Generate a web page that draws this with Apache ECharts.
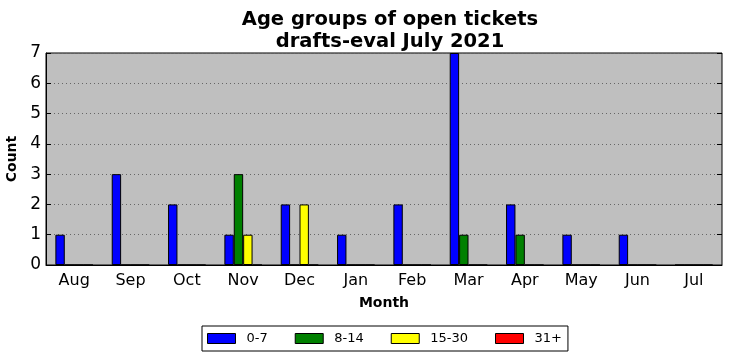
<!DOCTYPE html>
<html><head><meta charset="utf-8">
<script src="https://cdn.jsdelivr.net/npm/echarts@6/dist/echarts.min.js"></script>
<style>html,body{margin:0;padding:0;background:#fff}#c{width:732px;height:361px}</style>
</head><body><div id="c"></div>
<script>
const months = ['Aug','Sep','Oct','Nov','Dec','Jan','Feb','Mar','Apr','May','Jun','Jul'];
const s0_7   = [1,3,2,1,2,1,2,7,2,1,1,0];
const s8_14  = [0,0,0,3,0,0,0,1,1,0,0,0];
const s15_30 = [0,0,0,1,2,0,0,0,0,0,0,0];
const s31    = [0,0,0,0,0,0,0,0,0,0,0,0];
const seriesNames = ['0-7','8-14','15-30','31+'];
const seriesColors = ['#0000ff','#008000','#ffff00','#ff0000'];
const yTicks = [0,1,2,3,4,5,6,7];

const font = 'DejaVu Sans';
const chart = echarts.init(document.getElementById('c'), null, {renderer:'canvas'});
const data = [s0_7, s8_14, s15_30, s31];
chart.setOption({
  animation:false,
  title:{text:'Age groups of open tickets\ndrafts-eval July 2021', left:385, top:4, textAlign:'center',
    textStyle:{fontFamily:font, fontSize:19.5, fontWeight:'bold', color:'#000', lineHeight:22}},
  grid:{left:46, right:10, top:53, bottom:96, outerBoundsMode:'none', containLabel:false, show:true, backgroundColor:'#bfbfbf', borderColor:'#000', borderWidth:1},
  legend:{top:326, left:202, itemWidth:28, itemHeight:10, itemGap:27,
    backgroundColor:'#fff', borderColor:'#000', borderWidth:1, borderRadius:0, padding:[6,6,6,5],
    textStyle:{fontFamily:font, fontSize:13, color:'#000', padding:[0,0,0,6]},
    data: seriesNames.map(n=>({name:n, icon:'rect', itemStyle:{borderColor:'#000', borderWidth:1}}))},
  xAxis:[{type:'category', data:months, name:'Month', nameLocation:'middle', nameGap:31,
    nameTextStyle:{fontFamily:font, fontSize:14, fontWeight:'bold', color:'#000'},
    axisLine:{lineStyle:{color:'#000'}}, axisTick:{inside:true, alignWithLabel:true, length:5, lineStyle:{color:'#000'}},
    axisLabel:{fontFamily:font, fontSize:16, color:'#000', margin:8}, splitLine:{show:false}},
    {type:'category', data:months, position:'top', axisLine:{show:false}, axisLabel:{show:false},
    axisTick:{inside:true, alignWithLabel:true, length:5, lineStyle:{color:'#000'}}}],
  yAxis:[{type:'value', min:0, max:7, interval:1, name:'Count', nameLocation:'middle', nameGap:22,
    nameTextStyle:{fontFamily:font, fontSize:14, fontWeight:'bold', color:'#000'},
    axisLine:{show:true, lineStyle:{color:'#000'}}, axisTick:{show:true, inside:true, length:5, lineStyle:{color:'#000'}},
    axisLabel:{fontFamily:font, fontSize:17, color:'#000', margin:5, formatter:v=>yTicks.includes(v)?String(v):''},
    splitLine:{show:true, lineStyle:{color:'#666', type:[1,3], width:1}}},
    {type:'value', min:0, max:7, interval:1, position:'right', axisLine:{show:false}, axisLabel:{show:false},
    axisTick:{show:true, inside:true, length:5, lineStyle:{color:'#000'}}, splitLine:{show:false}}],
  series: seriesNames.map((n,i)=>({name:n, type:'bar', data:data[i], barWidth:'16.6667%', barGap:'0%',
    itemStyle:{color:seriesColors[i], borderColor:'#000', borderWidth:1}}))
});
</script></body></html>
